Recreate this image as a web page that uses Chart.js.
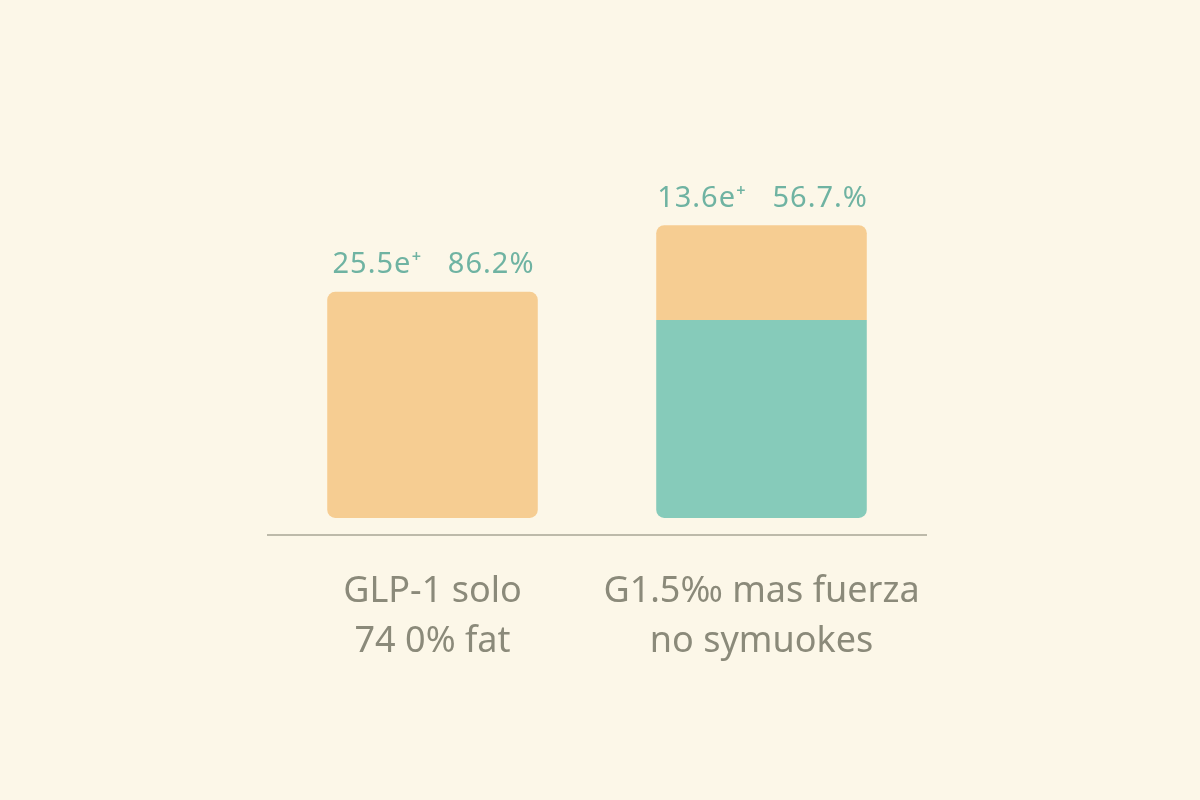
<!DOCTYPE html>
<html>
<head>
<meta charset="utf-8">
<script src="https://cdn.jsdelivr.net/npm/chart.js@4"></script>
<style>
  html, body { margin: 0; padding: 0; background: #fcf7e8; }
  #wrap { width: 1200px; height: 800px; }
</style>
</head>
<body>
<div id="wrap"><canvas id="chart"></canvas></div>
<script>
// categories (two-line tick labels)
const categories = [
  ['GLP-1 solo', '74 0% fat'],
  ['G1.5‰ mas fuerza', 'no symuokes']
];
// bottom segment (teal) and top segment (peach) of each bar
const baseValues = [0, 58.2];
const topValues = [66.5, 27.9];
// labels printed above each bar
const barLabels = ['25.5e⁺   86.2%', '13.6e⁺   56.7.%'];

const peach = '#f6cd92';
const teal = '#86cbba';
const ink = '#6fb3a2';
const grey = '#8b8a7a';

// writes the text above the top of each bar
const topLabels = {
  id: 'topLabels',
  afterDatasetsDraw(chart) {
    const ctx = chart.ctx;
    const meta = chart.getDatasetMeta(1);
    ctx.save();
    ctx.fillStyle = ink;
    ctx.font = '29px "Noto Sans", sans-serif';
    ctx.letterSpacing = '1px';
    ctx.textAlign = 'center';
    ctx.textBaseline = 'middle';
    meta.data.forEach((bar, i) => {
      ctx.fillText(barLabels[i], bar.x + 1, bar.y - 27);
    });
    ctx.restore();
  }
};

new Chart(document.getElementById('chart'), {
  type: 'bar',
  data: {
    labels: categories,
    datasets: [
      {
        label: 'base',
        data: baseValues.map(v => v ? [0, v] : null),
        backgroundColor: teal,
        borderSkipped: false,
        borderRadius: { topLeft: 0, topRight: 0, bottomLeft: 8, bottomRight: 8 }
      },
      {
        label: 'top',
        data: topValues.map((v, i) => [baseValues[i], baseValues[i] + v]),
        backgroundColor: peach,
        borderSkipped: false,
        borderRadius: c => baseValues[c.dataIndex]
          ? { topLeft: 8, topRight: 8, bottomLeft: 0, bottomRight: 0 }
          : 8
      }
    ]
  },
  options: {
    responsive: true,
    maintainAspectRatio: false,
    animation: false,
    layout: { padding: { top: 178, left: 268, right: 274, bottom: 109 } },
    datasets: { bar: { barPercentage: 0.64, categoryPercentage: 1, grouped: false } },
    plugins: {
      legend: { display: false },
      tooltip: { enabled: false }
    },
    scales: {
      x: {
        grid: { display: false },
        border: { display: true, color: '#bdbaaa', width: 2 },
        ticks: {
          color: grey,
          padding: 24,
          font: { family: '"Noto Sans", sans-serif', size: 36, lineHeight: 1.39 }
        }
      },
      y: {
        display: false,
        min: -5,
        max: 100
      }
    }
  },
  plugins: [topLabels]
});
</script>
</body>
</html>
